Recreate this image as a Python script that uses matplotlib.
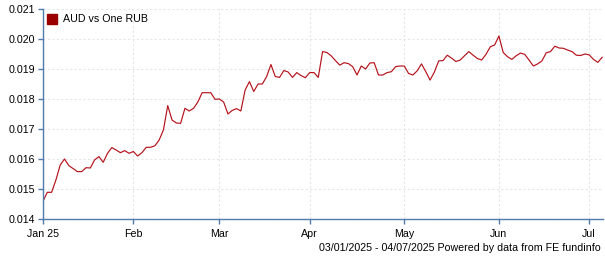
import numpy as np
import pandas as pd
import matplotlib
matplotlib.use("Agg")
import matplotlib.pyplot as plt
from matplotlib.patches import Rectangle

plt.rcParams['font.family'] = ['Liberation Sans', 'DejaVu Sans']

# trading days 03/01/2025 - 04/07/2025
dates = pd.bdate_range("2025-01-03", "2025-07-04")

aud_rub = [
    0.01459, 0.01489, 0.01489, 0.01530, 0.01580, 0.01600, 0.01578, 0.01568, 0.01558, 0.01558,
    0.01571, 0.01570, 0.01597, 0.01608, 0.01589, 0.01619, 0.01638, 0.01630, 0.01621, 0.01628,
    0.01619, 0.01625, 0.01610, 0.01621, 0.01639, 0.01639, 0.01644, 0.01663, 0.01697, 0.01778,
    0.01730, 0.01720, 0.01719, 0.01769, 0.01760, 0.01769, 0.01790, 0.01821, 0.01821, 0.01821,
    0.01799, 0.01800, 0.01790, 0.01750, 0.01762, 0.01768, 0.01760, 0.01830, 0.01858, 0.01825,
    0.01850, 0.01850, 0.01875, 0.01915, 0.01875, 0.01872, 0.01895, 0.01890, 0.01872, 0.01888,
    0.01878, 0.01871, 0.01888, 0.01888, 0.01872, 0.01958, 0.01955, 0.01944, 0.01928, 0.01913,
    0.01921, 0.01918, 0.01908, 0.01880, 0.01910, 0.01900, 0.01920, 0.01921, 0.01880, 0.01880,
    0.01888, 0.01891, 0.01908, 0.01910, 0.01910, 0.01885, 0.01880, 0.01894, 0.01917, 0.01891,
    0.01863, 0.01890, 0.01927, 0.01928, 0.01946, 0.01936, 0.01925, 0.01930, 0.01944, 0.01958,
    0.01946, 0.01935, 0.01930, 0.01949, 0.01974, 0.01980, 0.02010, 0.01955, 0.01941, 0.01932,
    0.01944, 0.01953, 0.01949, 0.01930, 0.01910, 0.01917, 0.01927, 0.01954, 0.01958, 0.01976,
    0.01970, 0.01969, 0.01963, 0.01958, 0.01946, 0.01945, 0.01950, 0.01947, 0.01932, 0.01922,
    0.01939,
]

y_ticks = [0.014, 0.015, 0.016, 0.017, 0.018, 0.019, 0.020, 0.021]
month_labels = ["Jan 25", "Feb", "Mar", "Apr", "May", "Jun", "Jul"]

df = pd.DataFrame({"date": dates, "value": aud_rub})
df["pos"] = np.arange(len(df))
# first trading day of every month
month_pos = df.groupby(df["date"].dt.to_period("M"))["pos"].min().values

fs = 7.7
fig = plt.figure(figsize=(6.05, 2.6), dpi=100)
ax = fig.add_axes([43 / 605, 41 / 260, 560 / 605, 210 / 260])

ax.plot(df["pos"], df["value"], color="#b5121b", lw=0.85)

ax.set_xlim(0, 130.2)
ax.set_ylim(0.014, 0.021)
ax.set_yticks(y_ticks)
ax.set_yticklabels([f"{v:.3f}" for v in y_ticks])
ax.set_xticks(month_pos)
ax.set_xticklabels(month_labels)

ax.grid(True, color="#e6e6e6", lw=0.8, linestyle=(0, (2, 2)))
ax.set_axisbelow(True)

for s in ["top", "right"]:
    ax.spines[s].set_visible(False)
for s in ["left", "bottom"]:
    ax.spines[s].set_color("#4f7cac")
    ax.spines[s].set_linewidth(1)
ax.tick_params(axis="both", colors="#4f7cac", labelcolor="black", labelsize=fs,
               length=3.5, width=1)
ax.tick_params(axis="x", pad=4)
ax.tick_params(axis="y", pad=2)

# legend
fig.patches.append(Rectangle((47 / 605, 1 - 24 / 260), 10 / 605, 10 / 260,
                             transform=fig.transFigure, color="#9b0000"))
fig.text(63 / 605, 1 - 19 / 260, "AUD vs One RUB", fontsize=fs, va="center", ha="left")

fig.text(601 / 605, 1 - 248 / 260, "03/01/2025 - 04/07/2025 Powered by data from FE fundinfo",
         fontsize=fs, va="center", ha="right")

fig.savefig("out.png", dpi=100)
